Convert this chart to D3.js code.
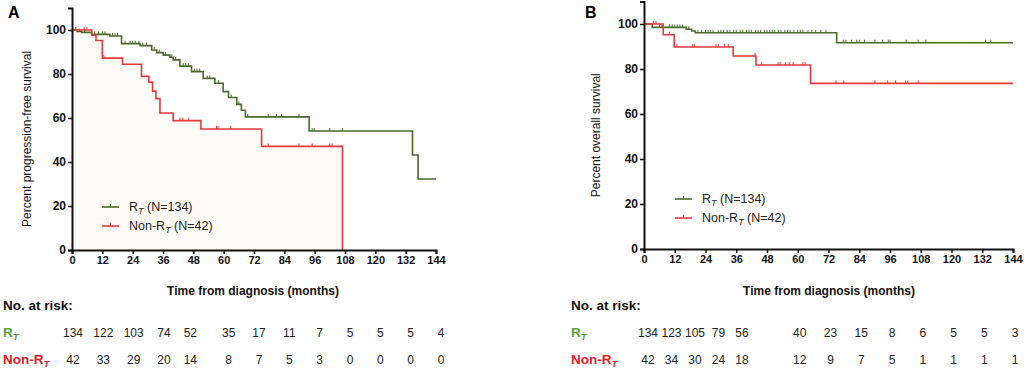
<!DOCTYPE html>
<html>
<head>
<meta charset="utf-8">
<script src="https://cdn.jsdelivr.net/npm/d3@7"></script>
<style>
  body { margin: 0; background: #fff; }
  svg { font-family: Arial, "Liberation Sans", sans-serif; }
</style>
</head>
<body>
<div id="chart"></div>
<script>
// x ticks (months)
const monthTicks = [0, 12, 24, 36, 48, 60, 72, 84, 96, 108, 120, 132, 144];
const yTicks = [0, 20, 40, 60, 80, 100];

// Panel A - progression-free survival, [month, percent]
const pfsRt = [[0, 100], [2, 99.3], [3.8, 98.9], [7.8, 98.0], [15, 97.3], [19.6, 93.8], [26.9, 92.9],
  [31.5, 90.9], [33.5, 89.7], [36.1, 88.6], [38.7, 87.6], [40, 86.4], [42.7, 83.6], [47.3, 81.1],
  [51.9, 78.0], [56.5, 75.8], [59.8, 72.0], [61.9, 69.3], [65.2, 66.2], [67, 63.5], [68.6, 60.5],
  [93.8, 54.1], [134.7, 43.2], [136.9, 32.3], [144, 32.3]];
const pfsRtCensor = [1.5, 3, 5, 9, 10.5, 12, 13, 16, 17, 18, 21, 23, 24, 25, 26.5, 28, 29.5, 32.5, 34.5,
  37, 39.5, 41, 44, 45, 46, 48.5, 49.5, 50.5, 53.5, 54.5, 58, 63, 66, 69.5, 77.6, 80.9, 82.9, 89.8,
  95, 95.8, 102, 107];
const pfsNon = [[0, 100], [7.8, 97.6], [9.5, 95.2], [12, 87.2], [20, 84.4], [27.5, 78.9], [30.4, 76.3],
  [31.9, 72.2], [33.2, 68.8], [34.8, 62.3], [40, 58.8], [51, 55.0], [75, 47.1], [107, 0]];
const pfsNonCensor = [4.8, 5.9, 12.6, 42.7, 43.8, 46, 57.2, 57.8, 62.8, 77.6, 89.8, 95, 102, 102.9];

// Panel B - overall survival
const osRt = [[0, 100], [3.2, 98.5], [16.5, 97.7], [18.6, 96.9], [20, 96.1], [75.2, 91.7], [144, 91.7]];
const osRtCensor = [6, 7, 10, 11, 12, 13, 14, 15, 17.5, 21, 22.5, 24, 25, 26, 27, 29, 30, 31, 32.5, 33.5,
  35, 36, 37.5, 38.5, 40, 41, 42, 43.5, 44.5, 45.5, 47, 48, 49, 50, 51, 52.5, 53.5, 55, 56, 57, 58.5,
  60, 61, 62, 64, 65.5, 67, 69, 71, 77.8, 78.8, 81, 83, 84, 86, 90.1, 93.1, 95.3, 96, 102.3, 107, 110,
  133.3, 135.3];
const osNon = [[0, 100], [7.5, 95.2], [11.8, 89.8], [34.8, 85.8], [43.7, 81.8], [65, 73.6], [144, 73.6]];
const osNonCensor = [3.6, 4.7, 9.9, 12.8, 19, 19.6, 28.1, 29, 31.3, 32.9, 43.3, 45.9, 52.3, 53.1, 55.2,
  56.7, 58.2, 62, 62.9, 74.9, 78, 90.1, 95.1, 98.2, 102.1, 102.9, 107];

// numbers at risk
const riskPfsRt = [134, 122, 103, 74, 52, 35, 17, 11, 7, 5, 5, 5, 4];
const riskPfsNon = [42, 33, 29, 20, 14, 8, 7, 5, 3, 0, 0, 0, 0];
const riskOsRt = [134, 123, 105, 79, 56, 40, 23, 15, 8, 6, 5, 5, 3];
const riskOsNon = [42, 34, 30, 24, 18, 12, 9, 7, 5, 1, 1, 1, 1];

const green = "#4b6b2b";
const red = "#e5393b";
const labelGreen = "#5ca135";
const labelRed = "#e3201f";

const svg = d3.select("#chart").append("svg")
  .attr("width", 1026)
  .attr("height", 374);

function stepValue(data, t) {
  let v = data[0][1];
  for (const d of data) { if (d[0] <= t) v = d[1]; }
  return v;
}

function addRT(sel, prefix) {
  // "R" with small italic subscript T
  sel.append("tspan").text(prefix + "R");
  sel.append("tspan").attr("font-size", "0.72em").attr("font-style", "italic").attr("dy", 3).text("T");
}

function drawPanel(p) {
  const x = d3.scaleLinear().domain([0, 144]).range([p.left, p.right]);
  const y = d3.scaleLinear().domain([0, 110]).range([p.bottom, p.top]);
  const g = svg.append("g");

  // panel letter
  g.append("text").attr("x", p.letterX).attr("y", 18)
    .attr("font-size", 16).attr("font-weight", "bold").text(p.letter);

  if (p.fill) {
    const area = d3.area().curve(d3.curveStepAfter)
      .x(d => x(d[0])).y0(y(0)).y1(d => y(d[1]));
    g.append("path").datum(p.non).attr("d", area).attr("fill", "#fefaf6");
  }

  const line = d3.line().curve(d3.curveStepAfter).x(d => x(d[0])).y(d => y(d[1]));
  const series = [
    { data: p.rt, censor: p.rtCensor, color: green },
    { data: p.non, censor: p.nonCensor, color: red }
  ];
  series.forEach(s => {
    g.append("path").datum(s.data).attr("d", line)
      .attr("fill", "none").attr("stroke", s.color).attr("stroke-width", 1.6);
    g.selectAll(null).data(s.censor).join("line")
      .attr("x1", d => x(d)).attr("x2", d => x(d))
      .attr("y1", d => y(stepValue(s.data, d)))
      .attr("y2", d => y(stepValue(s.data, d)) - 3)
      .attr("stroke", s.color).attr("stroke-width", 1);
  });

  // axes
  const xAxis = g.append("g").attr("transform", `translate(0,${p.bottom})`)
    .call(d3.axisBottom(x).tickValues(monthTicks).tickSize(4).tickPadding(2));
  const yAxis = g.append("g").attr("transform", `translate(${p.left},0)`)
    .call(d3.axisLeft(y).tickValues(yTicks).tickSize(4).tickPadding(2));
  [xAxis, yAxis].forEach(a => {
    a.select(".domain").attr("stroke", "#111").attr("stroke-width", 2);
    a.selectAll(".tick line").attr("stroke", "#111").attr("stroke-width", 1.5);
    a.selectAll("text").attr("font-size", 11).attr("font-weight", "bold").attr("fill", "#111")
      .attr("font-family", "Arial, 'Liberation Sans', sans-serif");
  });
  yAxis.selectAll("text").attr("font-size", 12);

  // y title
  g.append("text")
    .attr("transform", `translate(${p.yTitleX},${(p.top + p.bottom) / 2 + 10}) rotate(-90)`)
    .attr("text-anchor", "middle").attr("font-size", 12).attr("fill", "#111")
    .text(p.yTitle);

  // x title
  g.append("text").attr("x", p.xTitleX).attr("y", 295)
    .attr("text-anchor", "middle").attr("font-size", 12).attr("font-weight", "bold").attr("fill", "#111")
    .text("Time from diagnosis (months)");

  // legend
  const leg = [
    { label: " (N=134)", prefix: "", color: green },
    { label: " (N=42)", prefix: "Non-", color: red }
  ];
  leg.forEach((l, i) => {
    const ly = p.legY + i * 19;
    g.append("line").attr("x1", p.legX).attr("x2", p.legX + 17).attr("y1", ly).attr("y2", ly)
      .attr("stroke", l.color).attr("stroke-width", 1.6);
    g.append("line").attr("x1", p.legX + 8.5).attr("x2", p.legX + 8.5).attr("y1", ly).attr("y2", ly - 3)
      .attr("stroke", l.color).attr("stroke-width", 1);
    const t = g.append("text").attr("x", p.legX + 27).attr("y", ly + 4)
      .attr("font-size", 12.5).attr("fill", "#222");
    addRT(t, l.prefix);
    t.append("tspan").attr("dy", -3).text(l.label);
  });

  // numbers at risk
  g.append("text").attr("x", p.riskX).attr("y", 310)
    .attr("font-size", 13.5).attr("font-weight", "bold").attr("fill", "#111").text("No. at risk:");
  const rows = [
    { vals: p.riskRt, prefix: "", color: labelGreen, y: 337 },
    { vals: p.riskNon, prefix: "Non-", color: labelRed, y: 364 }
  ];
  rows.forEach(r => {
    const t = g.append("text").attr("x", p.riskX).attr("y", r.y)
      .attr("font-size", 13.5).attr("font-weight", "bold").attr("fill", r.color);
    addRT(t, r.prefix);
    g.selectAll(null).data(r.vals).join("text")
      .attr("x", (d, i) => p.colX(x, i))
      .attr("y", r.y)
      .attr("text-anchor", "middle").attr("font-size", 12).attr("fill", "#222")
      .text(d => d);
  });
}

drawPanel({
  letter: "A", letterX: 8,
  left: 72, right: 436, top: 8, bottom: 250,
  fill: true,
  rt: pfsRt, rtCensor: pfsRtCensor, non: pfsNon, nonCensor: pfsNonCensor,
  yTitle: "Percent progression-free survival", yTitleX: 31,
  xTitleX: 253,
  legX: 102, legY: 207,
  riskX: 3, riskRt: riskPfsRt, riskNon: riskPfsNon,
  colX: (x, i) => x(monthTicks[i]) + (i < 4 ? 1 : i === 4 ? -3 : 5)
});

drawPanel({
  letter: "B", letterX: 585,
  left: 644, right: 1013, top: 1.5, bottom: 249,
  fill: false,
  rt: osRt, rtCensor: osRtCensor, non: osNon, nonCensor: osNonCensor,
  yTitle: "Percent overall survival", yTitleX: 600,
  xTitleX: 829,
  legX: 675, legY: 199,
  riskX: 571, riskRt: riskOsRt, riskNon: riskOsNon,
  colX: (x, i) => i < 5 ? x(0) + 4 + i * 23.5 : x(monthTicks[i]) + 2
});
</script>
</body>
</html>
